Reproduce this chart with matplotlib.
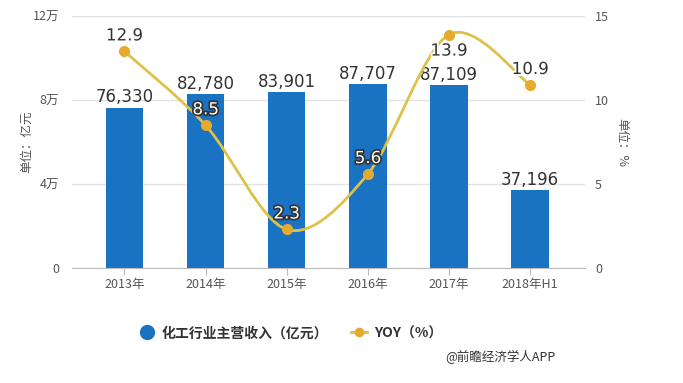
import matplotlib.pyplot as plt
import numpy as np
from matplotlib.path import Path
from matplotlib.patches import PathPatch
from matplotlib.lines import Line2D
import matplotlib.patheffects as pe

plt.rcParams['font.family'] = ['Noto Sans CJK SC', 'DejaVu Sans']

# Data
years = ['2013年', '2014年', '2015年', '2016年', '2017年', '2018年H1']
revenue = [76330, 82780, 83901, 87707, 87109, 37196]  # 亿元
yoy = [12.9, 8.5, 2.3, 5.6, 13.9, 10.9]  # %
left_ticks = [0, 40000, 80000, 120000]
left_tick_labels = ['0', '4万', '8万', '12万']
right_ticks = [0, 5, 10, 15]

bar_color = '#1a72c2'
line_color = '#ddc24a'
marker_color = '#e6ab2e'
tick_color = '#555555'

fig = plt.figure(figsize=(6.83, 3.83), dpi=100)
ax = fig.add_axes([0.105, 0.300, 0.752, 0.658])
ax2 = ax.twinx()

x = np.arange(len(years))

# bars
ax.bar(x, revenue, width=0.46, color=bar_color, zorder=2)
ax.set_ylim(0, 120000)
ax.set_xlim(-0.65, 5.68)
ax.set_yticks(left_ticks)
ax.set_yticklabels(left_tick_labels)
ax.set_xticks(x)
ax.set_xticklabels(years)
ax.grid(axis='y', color='#e3e3e3', linewidth=1, zorder=0)
ax.set_axisbelow(True)
for s in ['top', 'right', 'left']:
    ax.spines[s].set_visible(False)
    ax2.spines[s].set_visible(False)
ax2.spines['bottom'].set_visible(False)
ax.spines['bottom'].set_color('#bbbbbb')
ax.tick_params(axis='y', length=0, pad=9, labelsize=9, labelcolor=tick_color)
ax.tick_params(axis='x', length=5, color='#bbbbbb', pad=2, labelsize=9, labelcolor=tick_color)
ax.set_ylabel('单位：亿元', fontsize=9, color=tick_color, labelpad=0)

for xi, v in zip(x, revenue):
    ax.annotate(f'{v:,}', (xi, v), xytext=(0, 1), textcoords='offset points',
                ha='center', va='bottom', fontsize=12, color='#333333',
                family='DejaVu Sans', zorder=5)

# smooth line through the points (Catmull-Rom -> cubic Bezier)
ax2.set_ylim(0, 15)
ax2.set_yticks(right_ticks)
ax2.tick_params(axis='y', length=0, pad=7, labelsize=9, labelcolor=tick_color)
ax2.set_ylabel('单位：%', fontsize=9, color=tick_color, rotation=270, labelpad=14)

pts = list(zip(x.astype(float), yoy))
verts = [pts[0]]
codes = [Path.MOVETO]
t = 0.16
for i in range(len(pts) - 1):
    p0 = pts[i - 1] if i > 0 else pts[i]
    p1 = pts[i]
    p2 = pts[i + 1]
    p3 = pts[i + 2] if i + 2 < len(pts) else pts[i + 1]
    c1 = (p1[0] + (p2[0] - p0[0]) * t, p1[1] + (p2[1] - p0[1]) * t)
    c2 = (p2[0] - (p3[0] - p1[0]) * t, p2[1] - (p3[1] - p1[1]) * t)
    verts += [c1, c2, p2]
    codes += [Path.CURVE4] * 3
ax2.add_patch(PathPatch(Path(verts, codes), facecolor='none', edgecolor=line_color,
                        linewidth=2, zorder=3))
ax2.plot(x, yoy, linestyle='none', marker='o', markersize=7,
         color=marker_color, zorder=4)

inside = [False, True, True, True, False, False]
offsets = [5, 5, 5, 5, -18, 5]
for xi, v, ins, off in zip(x, yoy, inside, offsets):
    if ins:
        ax2.annotate(f'{v}', (xi, v), xytext=(0, off), textcoords='offset points',
                     ha='center', va='bottom', fontsize=12, color='white',
                     family='DejaVu Sans', zorder=6,
                     path_effects=[pe.withStroke(linewidth=2.5, foreground='#333333')])
    else:
        ax2.annotate(f'{v}', (xi, v), xytext=(0, off), textcoords='offset points',
                     ha='center', va='bottom', fontsize=12, color='#333333',
                     family='DejaVu Sans', zorder=6,
                     path_effects=[pe.withStroke(linewidth=2.5, foreground='white')])

# legend
handles = [
    Line2D([], [], linestyle='none', marker='o', markersize=10, color=bar_color),
    Line2D([], [], color=line_color, linewidth=2, marker='o', markersize=6,
           markerfacecolor=marker_color, markeredgecolor=marker_color),
]
fig.legend(handles, ['化工行业主营收入（亿元）', 'YOY（%）'], loc='center',
           bbox_to_anchor=(0.425, 0.13), ncol=2, frameon=False,
           prop={'size': 10, 'weight': 'bold'}, handlelength=1.2,
           columnspacing=1.6, handletextpad=0.5, labelcolor='#333333')

fig.text(0.652, 0.068, '@前瞻经济学人APP', fontsize=9, color='#333333',
         ha='left', va='center')

fig.savefig('out.png', dpi=100)
